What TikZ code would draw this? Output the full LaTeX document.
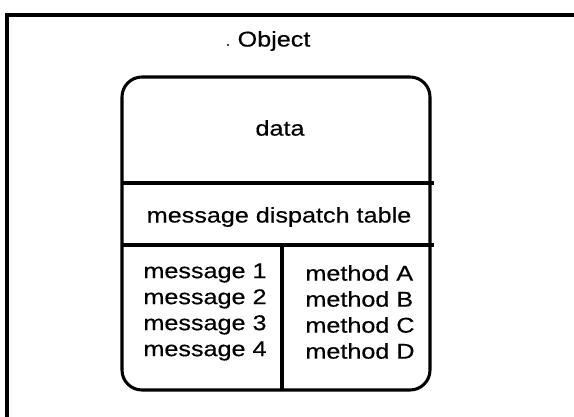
\documentclass[tikz,border=0pt]{standalone}
\usepackage{fontspec}
\setmainfont{Liberation Sans}[FakeStretch=1.18,FakeBold=0.4]
\begin{document}
\begin{tikzpicture}[x=0.75pt,y=-0.75pt,
  frame/.style={line width=2.3pt},
  boxline/.style={line width=2.3pt},
  lbl/.style={inner sep=0pt,font=\fontsize{16}{19.5}\selectfont},
  col/.style={lbl,align=left}]
\useasboundingbox (0,0) rectangle (574,417);
\draw[frame] (7,420) -- (7,15) -- (580,15);
\draw[boxline,rounded corners=15] (122,77) rectangle (430,390);
\coordinate (l1a) at (122,183); \coordinate (l1b) at (434,183);
\coordinate (l2a) at (122,245); \coordinate (l2b) at (434,245);
\coordinate (va) at (282,245); \coordinate (vb) at (282,390);
\draw[boxline] (l1a) -- (l1b);
\draw[boxline] (l2a) -- (l2b);
\draw[boxline] (va) -- (vb);
\fill (228,45) circle (1.1);
\node[lbl] (obj) at (274,41) {Object};
\node[lbl] (data) at (280,128) {data};
\node[lbl] (dispatch) at (279,217) {message dispatch table};
\node[col] (msgs) at (205,312) {message 1\\message 2\\message 3\\message 4};
\node[col] (meths) at (360,312) {method A\\method B\\method C\\method D};
\end{tikzpicture}
\end{document}
